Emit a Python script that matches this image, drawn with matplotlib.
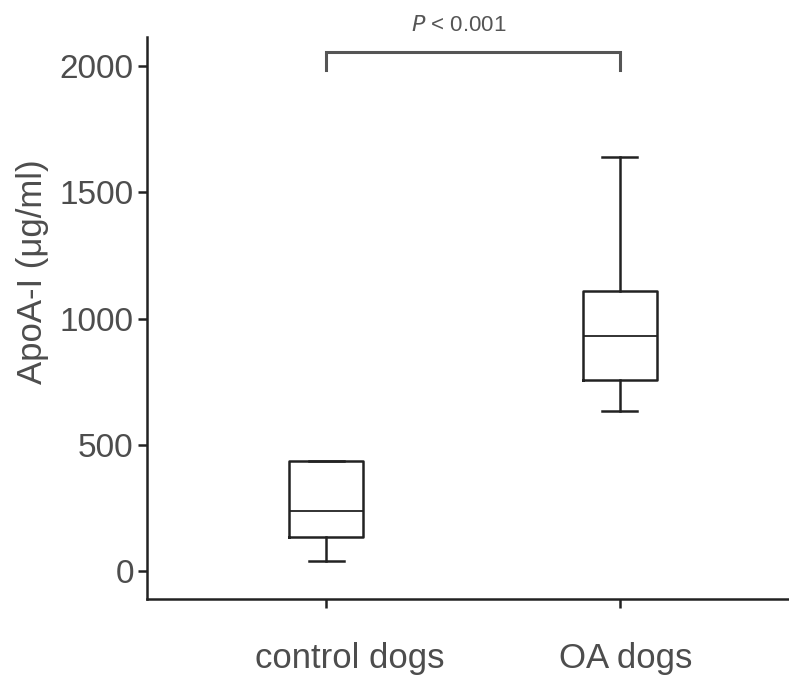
# box plot of ApoA-I in control vs OA dogs
import matplotlib
matplotlib.use('Agg')
import matplotlib.pyplot as plt
import matplotlib.transforms as mtransforms

# values (ug/ml)
groups = ['control dogs', 'OA dogs']
whisker_low = [40, 633]
q1 = [135, 757]
median = [239, 931]
q3 = [438, 1111]
whisker_high = [438, 1639]

p_text = '$P$ < 0.001'
bracket_y = 2056
bracket_drop = 70

plt.rcParams['font.family'] = ['Liberation Sans', 'DejaVu Sans']

fig = plt.figure(figsize=(7.89, 6.75), dpi=100)
ax = fig.add_axes([0.1863, 0.1121, 0.8137, 0.8331])

stats = []
for i in range(len(groups)):
    stats.append({'whislo': whisker_low[i], 'q1': q1[i], 'med': median[i],
                  'q3': q3[i], 'whishi': whisker_high[i], 'fliers': []})

line_col = '#222222'
lw = 1.8
ax.bxp(stats, positions=[1, 2], widths=0.252, capwidths=0.119, showfliers=False,
       boxprops=dict(color=line_col, linewidth=lw),
       medianprops=dict(color=line_col, linewidth=1.3),
       whiskerprops=dict(color=line_col, linewidth=lw),
       capprops=dict(color=line_col, linewidth=lw))

# significance bracket
ax.plot([1, 1, 2, 2], [bracket_y - bracket_drop, bracket_y, bracket_y, bracket_y - bracket_drop],
        color='#555555', linewidth=2.2, clip_on=False, solid_joinstyle='miter')
ax.text(1.45, bracket_y + 105, p_text, ha='center', va='center', fontsize=16,
        color='#555555', clip_on=False)

ax.set_xlim(0.391, 2.575)
ax.set_ylim(-111, 2115)
ax.set_yticks([0, 500, 1000, 1500, 2000])
ax.set_xticks([1, 2])
ax.set_xticklabels(groups)
ax.set_ylabel('ApoA-I (μg/ml)', fontsize=25, color='#4d4d4d')
ax.yaxis.set_label_coords(-0.152, 0.582)

ax.spines['top'].set_visible(False)
ax.spines['right'].set_visible(False)
for s in ['left', 'bottom']:
    ax.spines[s].set_linewidth(1.8)
    ax.spines[s].set_color('#222222')
ax.tick_params(axis='both', length=6.5, width=1.8, color='#222222',
               labelsize=24, labelcolor='#4d4d4d')
ax.tick_params(axis='x', pad=24, labelsize=25)
ax.tick_params(axis='y', pad=3)

# the x labels sit a little right of their ticks in the original
shifts = [24, 6]
for lab, dx in zip(ax.get_xticklabels(), shifts):
    lab.set_transform(lab.get_transform() +
                      mtransforms.ScaledTranslation(dx / 100, 0, fig.dpi_scale_trans))

fig.savefig('out.png', dpi=100)
